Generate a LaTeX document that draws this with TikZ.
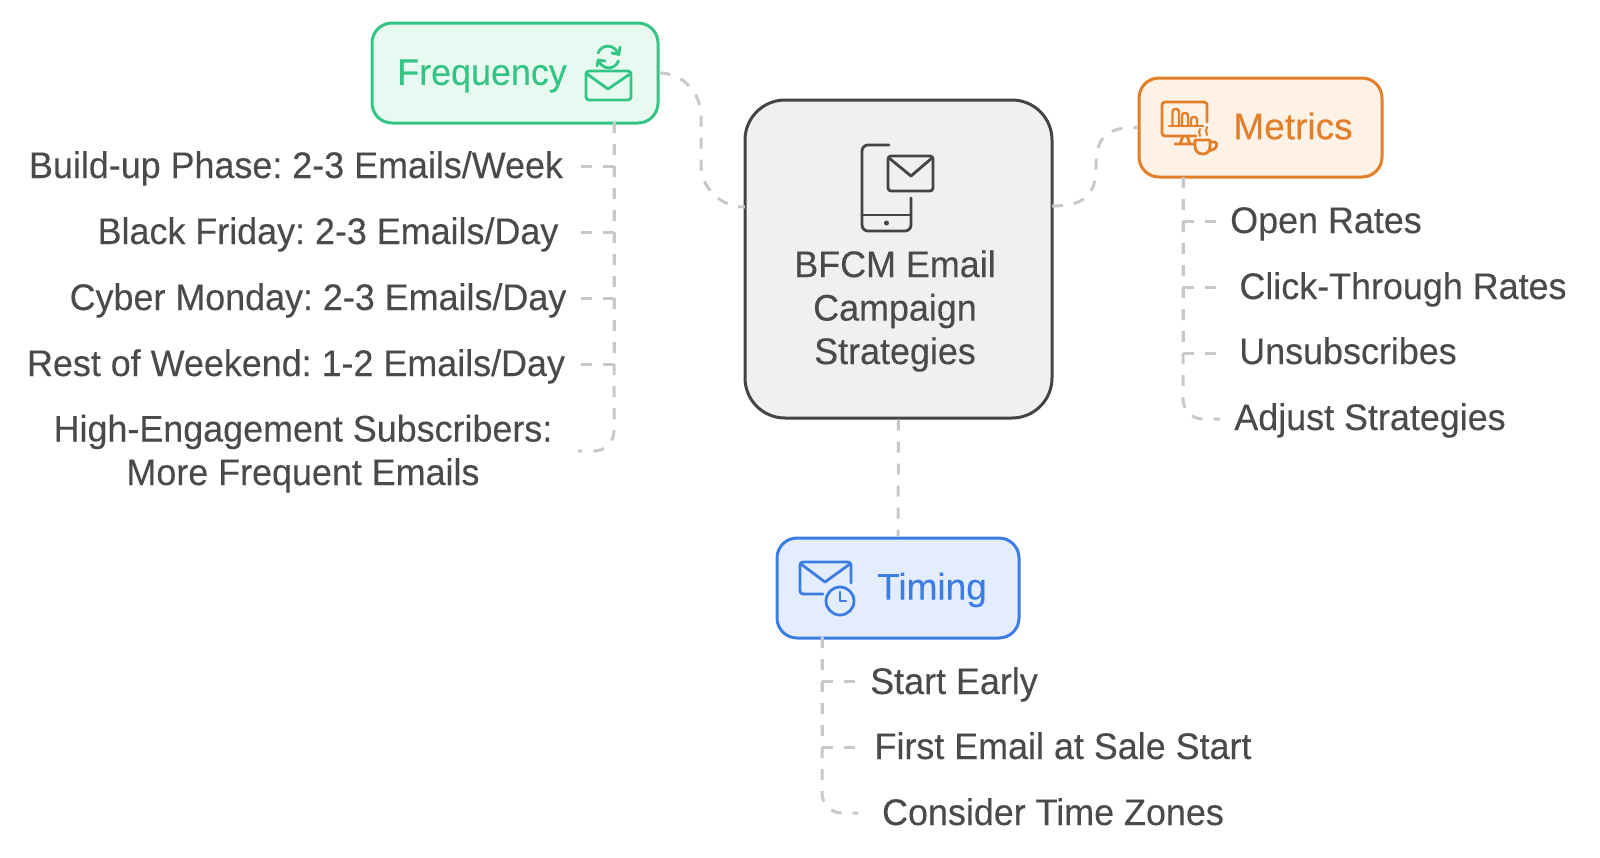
\documentclass[tikz,border=0pt]{standalone}
\usepackage{fontspec}
\setmainfont[FakeBold=0.2]{Liberation Sans}
\newfontfamily\narrowfont[FakeStretch=0.97,FakeBold=0.2]{Liberation Sans}
\definecolor{inkgray}{HTML}{4A4A4A}
\definecolor{linkgray}{HTML}{C8C8C8}
\definecolor{coregray}{HTML}{444444}
\definecolor{freqgreen}{HTML}{33C583}
\definecolor{freqfill}{HTML}{E8F9F1}
\definecolor{metricorange}{HTML}{E37F28}
\definecolor{metricfill}{HTML}{FEF1E6}
\definecolor{timeblue}{HTML}{3B7DE2}
\definecolor{timefill}{HTML}{E3EDFD}
\tikzset{
  x=1pt,y=-1pt,
  box/.style={draw,rounded corners=20pt,line width=3pt,inner sep=0pt},
  label/.style={font=\fontsize{37}{43.5}\selectfont\frenchspacing,align=center},
  leaf/.style={font=\fontsize{37}{43.5}\selectfont\narrowfont\frenchspacing,align=center,text=inkgray,anchor=base,inner sep=0pt},
  link/.style={draw=linkgray,line width=3pt,dash pattern=on 11pt off 11pt},
  icon/.style={line width=2.8pt,line cap=round,line join=round},
}
\begin{document}
\begin{tikzpicture}
  \useasboundingbox (0,0) rectangle (1600,857);
  % boxes
  \node [box,draw=coregray,fill=black!6,rounded corners=40pt,minimum width=307pt,minimum height=318pt] (core) at (898.5,259) {};
  \node [box,draw=freqgreen,fill=freqfill,minimum width=286pt,minimum height=100pt] (freq) at (515,73) {};
  \node [box,draw=metricorange,fill=metricfill,minimum width=243pt,minimum height=99pt] (metrics) at (1260.5,127.5) {};
  \node [box,draw=timeblue,fill=timefill,minimum width=242pt,minimum height=100pt] (timing) at (898,588) {};
  \node [leaf,anchor=center] (corelabel) at (895,311) {BFCM Email\\Campaign\\Strategies};
  \node [leaf,anchor=center,text=freqgreen] (freqlabel) at (482,76) {Frequency};
  \node [label,text=metricorange] (metricslabel) at (1293,126) {Metrics};
  \node [label,text=timeblue] (timinglabel) at (932,590) {Timing};
  % leaves of each branch
  \node [leaf] (buildup) at (296,178) {Build-up Phase: 2-3 Emails/Week};
  \node [leaf] (friday) at (328,244) {Black Friday: 2-3 Emails/Day};
  \node [leaf] (monday) at (318,310) {Cyber Monday: 2-3 Emails/Day};
  \node [leaf] (weekend) at (296,376) {Rest of Weekend: 1-2 Emails/Day};
  \node [leaf] (engaged) at (303,485) {High-Engagement Subscribers:\\More Frequent Emails};
  \node [leaf] (open) at (1326,233) {Open Rates};
  \node [leaf] (click) at (1403,299) {Click-Through Rates};
  \node [leaf] (unsub) at (1348,364) {Unsubscribes};
  \node [leaf] (adjust) at (1370,430) {Adjust Strategies};
  \node [leaf] (early) at (954,694) {Start Early};
  \node [leaf] (first) at (1063,759) {First Email at Sale Start};
  \node [leaf] (zones) at (1053,825) {Consider Time Zones};
  % connector ends
  \coordinate (freqroot) at (614,122);
  \coordinate (metricsroot) at (1183,177);
  \coordinate (timingroot) at (822,637);
  \coordinate (corefreq) at (745,207);
  \coordinate (coremetrics) at (1052,206);
  \coordinate (buildupend) at (581,166);
  \coordinate (fridayend) at (581,232);
  \coordinate (mondayend) at (581,298);
  \coordinate (weekendend) at (581,364);
  \coordinate (engagedend) at (578,451);
  \coordinate (openend) at (1217,221);
  \coordinate (clickend) at (1217,287);
  \coordinate (unsubend) at (1217,353);
  \coordinate (adjustend) at (1220,419);
  \coordinate (earlyend) at (856,681);
  \coordinate (firstend) at (856,747);
  \coordinate (zonesend) at (858,813);
  % connectors
  \draw [link] (freq.east) .. controls (682,73) and (701,92) .. (701,116) -- (701,164) .. controls (701,188) and (720,207) .. (corefreq);
  \draw [link] (coremetrics) .. controls (1085,206) and (1096,195) .. (1096,166) .. controls (1096,137) and (1107,127) .. (metrics.west);
  \draw [link] (core.south) -- (timing.north);
  \draw [link] (freqroot) |- (buildupend);
  \draw [link] (freqroot) |- (fridayend);
  \draw [link] (freqroot) |- (mondayend);
  \draw [link] (freqroot) |- (weekendend);
  \draw [link,rounded corners=20pt] (freqroot) |- (engagedend);
  \draw [link] (metricsroot) |- (openend);
  \draw [link] (metricsroot) |- (clickend);
  \draw [link] (metricsroot) |- (unsubend);
  \draw [link,rounded corners=20pt] (metricsroot) |- (adjustend);
  \draw [link] (timingroot) |- (earlyend);
  \draw [link] (timingroot) |- (firstend);
  \draw [link,rounded corners=20pt] (timingroot) |- (zonesend);
  % phone with envelope
  \draw [icon,coregray,rounded corners=6pt] (889,145) -- (862,145) -- (862,231) -- (911,231) -- (911,198);
  \draw [icon,coregray] (862,215) -- (911,215);
  \fill [coregray] (886.5,223) circle (2.5pt);
  \draw [icon,coregray,rounded corners=3pt] (888,156) rectangle (933,191);
  \draw [icon,coregray] (889,158) -- (911,176) -- (932,158);
  % envelope with refresh arrows
  \draw [icon,freqgreen,rounded corners=3pt] (586,71) rectangle (631,100);
  \draw [icon,freqgreen] (587,74) -- (608,89) -- (630,74);
  \draw [icon,freqgreen] (598,53) arc [start angle=160,end angle=20,radius=10.5pt];
  \draw [icon,freqgreen] (620,47) -- (619,54.5) -- (612,53);
  \draw [icon,freqgreen] (618.5,61) arc [start angle=-20,end angle=-160,radius=10.5pt];
  \draw [icon,freqgreen] (597,66) -- (598,60) -- (605,61);
  % monitor with cup
  \draw [icon,metricorange,rounded corners=3pt] (1196,136) -- (1162,136) -- (1162,102) -- (1207,102) -- (1207,122);
  \draw [icon,metricorange] (1169,126) -- (1203,126);
  \draw [icon,metricorange,line width=2.4pt,rounded corners=2.5pt] (1172.5,126) -- (1172.5,109) -- (1179,109) -- (1179,126);
  \draw [icon,metricorange,line width=2.4pt,rounded corners=2.5pt] (1182,126) -- (1182,113) -- (1188,113) -- (1188,126);
  \draw [icon,metricorange,line width=2.4pt,rounded corners=2.5pt] (1191,126) -- (1191,117) -- (1197,117) -- (1197,126);
  \draw [icon,metricorange] (1183,136) -- (1180,144) (1187,136) -- (1190,144) (1175,144) -- (1194,144);
  \draw [icon,metricorange] (1195,140) -- (1210,140) -- (1210,146) .. controls (1210,151) and (1207,154) .. (1203,154) .. controls (1198,154) and (1195,151) .. (1195,146) -- cycle;
  \draw [icon,metricorange,rounded corners=2pt] (1210,142) -- (1216.5,142) -- (1216.5,148) -- (1209,151);
  \draw [icon,metricorange,line width=2pt] (1200,129) -- (1199,132) -- (1200,136) (1207,127) -- (1206,131) -- (1207,135);
  % envelope with clock
  \draw [icon,timeblue,rounded corners=3pt] (823,594) -- (800,594) -- (800,562) -- (851,562) -- (851,583);
  \draw [icon,timeblue] (801,564) -- (825,582) -- (850,564);
  \draw [icon,timeblue] (840,601) circle (14pt);
  \draw [icon,timeblue] (840,592) -- (840,601) -- (846,601);
\end{tikzpicture}
\end{document}
